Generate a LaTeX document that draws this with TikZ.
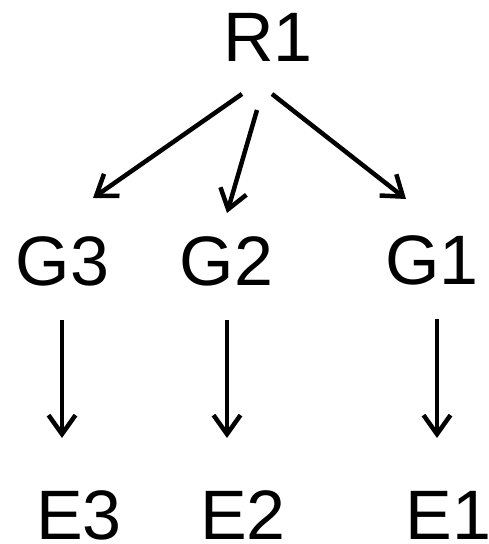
\documentclass[tikz,border=0pt]{standalone}
\usepackage{fontspec}
\setmainfont{Liberation Sans}
\usetikzlibrary{arrows.meta}
\begin{document}
\begin{tikzpicture}[x=1pt,y=1pt,
  lbl/.style={inner sep=0pt, anchor=base, font=\fontsize{70}{84}\selectfont},
  arr/.style={line width=4.5pt, -{Straight Barb[length=19pt,width=27pt]}}]
\useasboundingbox[fill=white] (0,0) rectangle (489,544);
% labels
\node[lbl] (R1) at (268,482) {R1};
\node[lbl] (G3) at (62.5,258) {G3};
\node[lbl] (G2) at (226.5,258) {G2};
\node[lbl] (G1) at (432,259) {G1};
\node[lbl] (E3) at (79,5) {E3};
\node[lbl] (E2) at (243,5) {E2};
\node[lbl] (E1) at (448.5,5) {E1};
% R1 fans out to the G row
\draw[arr] ([shift={(-26,-32)}]R1.base) -- ([shift={(30.5,88)}]G3.base);
\draw[arr] ([shift={(-11,-48)}]R1.base) -- ([shift={(0.5,73)}]G2.base);
\draw[arr] ([shift={(4,-32)}]R1.base) -- ([shift={(-26,86)}]G1.base);
% each G points down to its E
\draw[arr] ([shift={(-0.5,-34)}]G3.base) -- ([shift={(-17,101)}]E3.base);
\draw[arr] ([shift={(0.5,-34)}]G2.base) -- ([shift={(-16,101)}]E2.base);
\draw[arr] ([shift={(5,-34)}]G1.base) -- ([shift={(-11.5,101)}]E1.base);
\end{tikzpicture}
\end{document}
